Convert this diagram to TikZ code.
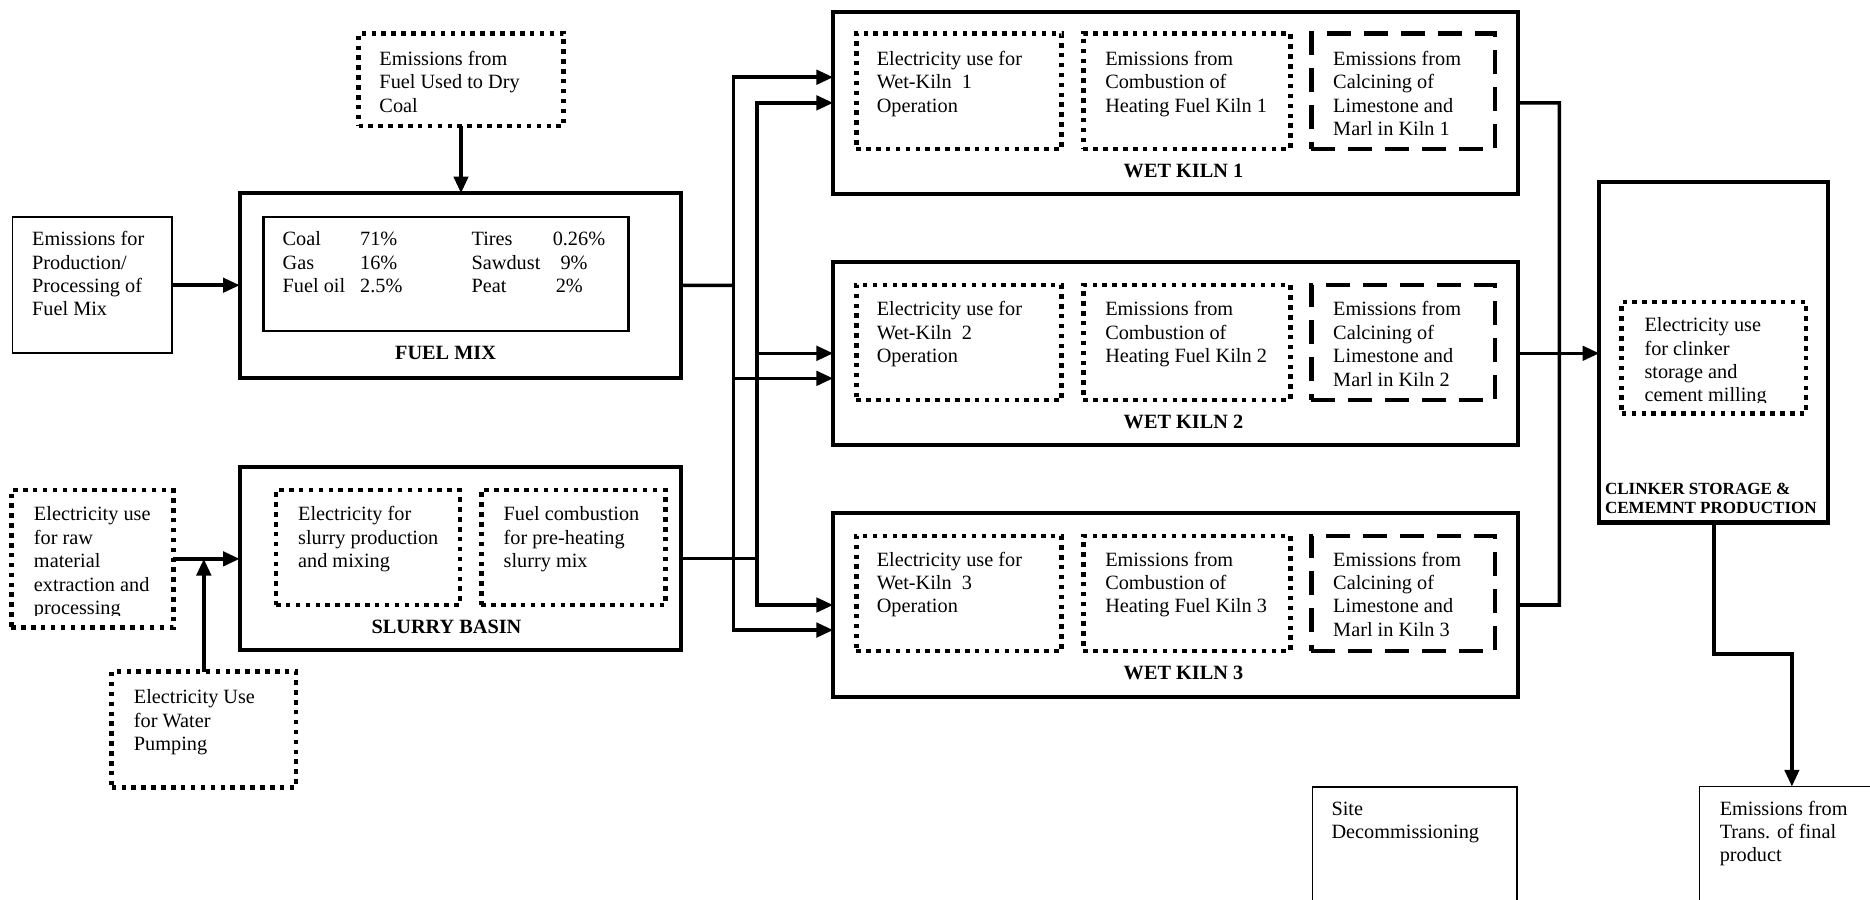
\documentclass[tikz,border=0pt]{standalone}
\usepackage{fontspec}
\setmainfont{Liberation Serif}
\usetikzlibrary{arrows.meta}
\begin{document}
\begin{tikzpicture}[x=1pt,y=-1pt,
  box/.style={draw, inner sep=0pt, outer sep=0pt, anchor=north west},
  thickbox/.style={box, line width=3.4pt},
  thinbox/.style={box, line width=1.6pt},
  dotbox/.style={box, line width=3.9pt, dash pattern=on 3.8pt off 4.5pt},
  dashbox/.style={box, line width=3.8pt, dash pattern=on 20pt off 11pt},
  txt/.style={anchor=north west, inner sep=0pt, outer sep=0pt, align=left, font=\fontsize{17}{19.6}\selectfont},
  lbl/.style={anchor=base, inner sep=0pt, outer sep=0pt, font=\fontsize{17}{19.6}\selectfont\bfseries},
  conn/.style={line width=3pt},
  arr/.style={conn, -{Triangle[length=14pt,width=12pt]}}
]
\useasboundingbox (0,0) rectangle (1568,754);
\clip (0,0) rectangle (1568,754);

% ---------- left part ----------
\node[dotbox, minimum width=171.9pt, minimum height=77.6pt] (drycoal) at (300.6,28) {};
\node[txt] (drycoaltxt) at (318.2,41) {\strut Emissions from\\Fuel Used to Dry\\Coal};

\node[thickbox, minimum width=370pt, minimum height=154.7pt] (fuelmix) at (201,162) {};
\node[box, line width=2pt, minimum width=306.1pt, minimum height=95.5pt] (fuelinner) at (220.9,182) {};
\node[txt] (fc1) at (237,192.5) {\strut Coal\\Gas\\Fuel oil};
\node[txt] (fc2) at (302,192.5) {\strut 71\%\\16\%\\2.5\%};
\node[txt] (fc3) at (395.5,192.5) {\strut Tires\\Sawdust\\Peat};
\node[txt] (fc4) at (463.5,192.5) {\strut 0.26\%\\\hspace*{6.5pt}9\%\\\hspace*{2.5pt}2\%};
\node[lbl] (fuellbl) at (373.6,301.3) {FUEL MIX};

\node[thinbox, minimum width=134pt, minimum height=114.3pt] (prod) at (10.5,182) {};
\node[txt] (prodtxt) at (27,192.3) {\strut Emissions for\\Production/\\Processing of\\Fuel Mix};

\node[dotbox, minimum width=135.9pt, minimum height=115.4pt] (raw) at (9.4,410.9) {};
\begin{scope}
  \clip (0,400) rectangle (150,516);
  \node[txt] (rawtxt) at (28.5,423.1) {\strut Electricity use\\for raw\\material\\extraction and\\processing};
\end{scope}

\node[dotbox, minimum width=154.6pt, minimum height=97.2pt] (pump) at (93.6,563.1) {};
\node[txt] (pumptxt) at (112.3,576.3) {\strut Electricity Use\\for Water\\Pumping};

\node[thickbox, minimum width=370pt, minimum height=153.7pt] (slurry) at (201,391.3) {};
\node[dotbox, minimum width=154.2pt, minimum height=96.4pt] (slurrya) at (231.4,410.9) {};
\node[txt] (slurryatxt) at (250,423.1) {\strut Electricity for\\slurry production\\and mixing};
\node[dotbox, minimum width=154.2pt, minimum height=96.4pt] (slurryb) at (403.6,410.9) {};
\node[txt] (slurrybtxt) at (422.3,423.1) {\strut Fuel combustion\\for pre-heating\\slurry mix};
\node[lbl] (slurrylbl) at (374.4,531.1) {SLURRY BASIN};

% ---------- kilns ----------
\node[thickbox, minimum width=574.3pt, minimum height=152.9pt] (kiln1) at (698.6,9.8) {};
\node[dotbox, minimum width=172.3pt, minimum height=97pt] (k1a) at (717.9,27.9) {};
\node[dotbox, minimum width=173.3pt, minimum height=97pt] (k1b) at (908.5,27.9) {};
\node[dashbox, minimum width=154pt, minimum height=97pt] (k1c) at (1099.6,27.9) {};
\node[txt] (k1atxt) at (735.2,41) {\strut Electricity use for\\Wet-Kiln\ \ 1\\Operation};
\node[txt] (k1btxt) at (926.8,41) {\strut Emissions from\\Combustion of\\Heating Fuel Kiln 1};
\node[txt] (k1ctxt) at (1117.9,41) {\strut Emissions from\\Calcining of\\Limestone and\\Marl in Kiln 1};
\node[lbl] (k1lbl) at (992.3,148.7) {WET KILN 1};

\node[thickbox, minimum width=574.3pt, minimum height=153.7pt] (kiln2) at (698.6,219.4) {};
\node[dotbox, minimum width=172.3pt, minimum height=96.4pt] (k2a) at (717.9,239) {};
\node[dotbox, minimum width=173.3pt, minimum height=96.4pt] (k2b) at (908.5,239) {};
\node[dashbox, minimum width=154pt, minimum height=96.4pt] (k2c) at (1099.6,239) {};
\node[txt] (k2atxt) at (735.2,251.2) {\strut Electricity use for\\Wet-Kiln\ \ 2\\Operation};
\node[txt] (k2btxt) at (926.8,251.2) {\strut Emissions from\\Combustion of\\Heating Fuel Kiln 2};
\node[txt] (k2ctxt) at (1117.9,251.2) {\strut Emissions from\\Calcining of\\Limestone and\\Marl in Kiln 2};
\node[lbl] (k2lbl) at (992.3,359.1) {WET KILN 2};

\node[thickbox, minimum width=574.3pt, minimum height=153.8pt] (kiln3) at (698.6,430.4) {};
\node[dotbox, minimum width=172.3pt, minimum height=96.4pt] (k3a) at (717.9,449.5) {};
\node[dotbox, minimum width=173.3pt, minimum height=96.4pt] (k3b) at (908.5,449.5) {};
\node[dashbox, minimum width=154pt, minimum height=96.4pt] (k3c) at (1099.6,449.5) {};
\node[txt] (k3atxt) at (735.2,460.9) {\strut Electricity use for\\Wet-Kiln\ \ 3\\Operation};
\node[txt] (k3btxt) at (926.8,460.9) {\strut Emissions from\\Combustion of\\Heating Fuel Kiln 3};
\node[txt] (k3ctxt) at (1117.9,460.9) {\strut Emissions from\\Calcining of\\Limestone and\\Marl in Kiln 3};
\node[lbl] (k3lbl) at (992.3,569.6) {WET KILN 3};

% ---------- right part ----------
\node[thickbox, minimum width=192pt, minimum height=285.1pt] (clinker) at (1341,153) {};
\node[dotbox, minimum width=154.6pt, minimum height=93.7pt] (clinkin) at (1359.8,253.1) {};
\begin{scope}
  \clip (1350,250) rectangle (1510,337.5);
  \node[txt] (clinktxt) at (1378.9,264.4) {\strut Electricity use\\for clinker\\storage and\\cement milling};
\end{scope}
\node[txt, font=\fontsize{14.3}{16}\selectfont\bfseries] (clinklbl) at (1345.8,403.5) {\strut CLINKER STORAGE \&\\CEMEMNT PRODUCTION};

\node[thinbox, minimum width=171.4pt, minimum height=120pt] (site) at (1100.5,660.2) {};
\node[txt] (sitetxt) at (1116.5,670) {\strut Site\\Decommissioning};
\node[thinbox, minimum width=155pt, minimum height=120pt] (trans) at (1425,659.5) {};
\node[txt] (transtxt) at (1442,669.7) {\strut Emissions from\\Trans. of final\\product};

% ---------- connectors ----------
\coordinate (fj) at (615,239.35);
\coordinate (sj) at (634.5,468.15);
\coordinate (rj1) at (1307.5,86.25);
\coordinate (rj3) at (1307.5,507.3);

\draw[arr] (drycoal.south) -- (drycoal.south |- fuelmix.north);
\draw[arr] (prod.east) -- (fuelmix.west |- prod.east);
\draw[arr] (raw.east) -- (slurry.west |- raw.east);
\draw[arr] (pump.north) -- (pump.north |- raw.east);

\draw[conn] (fuelmix.east) -- (fj);
\draw[arr] (fj) |- ([yshift=21.5pt]kiln1.west);
\draw[arr] (fj) |- ([yshift=-21pt]kiln2.west);
\draw[arr] (fj) |- ([yshift=-21pt]kiln3.west);

\draw[conn] (slurry.east) -- (sj);
\draw[arr] (sj) |- (kiln1.west);
\draw[arr] (sj) |- (kiln2.west);
\draw[arr] (sj) |- (kiln3.west);

\draw[conn] (kiln1.east) -- (rj1) -- (rj3) -- (kiln3.east);
\draw[arr] (kiln2.east) -- (clinker.west |- kiln2.east);
\draw[arr] (clinker.south) -- ++(0,110.5) -| (trans.north);
\end{tikzpicture}
\end{document}
